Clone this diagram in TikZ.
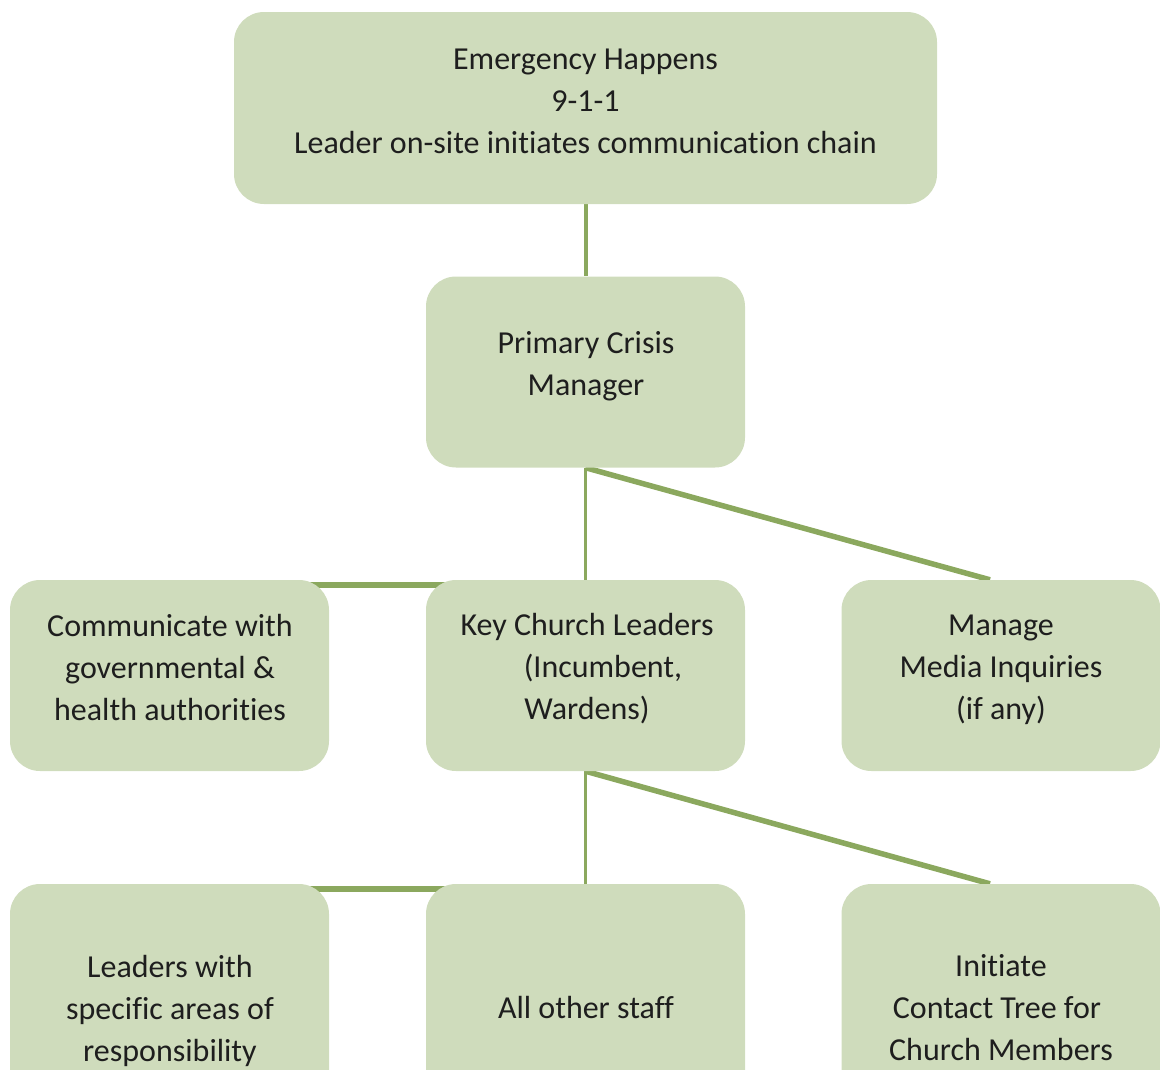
\documentclass[tikz,border=0pt]{standalone}
\usepackage{fontspec}
\setmainfont{Carlito}[Ligatures={NoCommon}]
\usetikzlibrary{backgrounds,calc}
\definecolor{boxfill}{RGB}{207,220,188}
\definecolor{linkgreen}{RGB}{139,168,94}
\definecolor{txtcol}{RGB}{30,30,30}
\begin{document}
\begin{tikzpicture}[x=1pt,y=-1pt,
  box/.style={fill=boxfill, draw=none, rounded corners=30pt, minimum width=319pt, minimum height=191pt, inner sep=0pt},
  txt/.style={align=center, font=\fontsize{32}{42}\selectfont, text=txtcol, inner sep=0pt},
  link/.style={draw=linkgreen}]
\useasboundingbox (0,0) rectangle (1160,1069);
\node[box, minimum width=703pt, minimum height=192pt] (top) at (585.5,108) {};
\node[box] (pcm) at (585.5,372) {};
\node[box] (comm) at (169.5,675.5) {};
\node[box] (key) at (585.5,675.5) {};
\node[box] (media) at (1001,675.5) {};
\node[box, minimum height=260pt] (lead) at (169.5,1014) {};
\node[box, minimum height=260pt] (staff) at (585.5,1014) {};
\node[box, minimum height=260pt] (tree) at (1001,1014) {};
\begin{pgfonlayer}{background}
\draw[link, line width=4pt] (top.south) -- (pcm.north);
\draw[link, line width=3pt] (pcm.south) -- (key.north);
\draw[link, line width=5.5pt] (pcm.south) -- ($(media.north)+(-11,0)$);
\draw[link, line width=6pt] ($(key.north west)+(19,5)$) -- ($(comm.north east)+(-19,5)$);
\draw[link, line width=3pt] (key.south) -- (staff.north);
\draw[link, line width=5.5pt] (key.south) -- ($(tree.north)+(-11,0)$);
\draw[link, line width=6pt] ($(staff.north west)+(19,5)$) -- ($(lead.north east)+(-19,5)$);
\end{pgfonlayer}
\node[txt] (ttop) at (585.5,101.5) {Emergency Happens\\9-1-1\\Leader on-site initiates communication chain};
\node[txt] (tpcm) at (586,366.5) {Primary Crisis\\Manager};
\node[txt] (tcomm) at (170,667) {Communicate with\\governmental \&\\health authorities};
\node[txt] (tkey) at (587,669) {Key Church Leaders\\\hspace*{32pt}(Incumbent,\\Wardens)};
\node[txt] (tmedia) at (1001,670) {Manage\\Media Inquiries\\(if any)};
\node[txt] (tlead) at (170,1010.5) {Leaders with\\specific areas of\\responsibility};
\node[txt] (tstaff) at (586,1007.5) {All other staff};
\node[txt] (ttree) at (1001,1008) {Initiate\\Contact Tree for\rule{8pt}{0pt}\\Church Members};
\end{tikzpicture}
\end{document}
